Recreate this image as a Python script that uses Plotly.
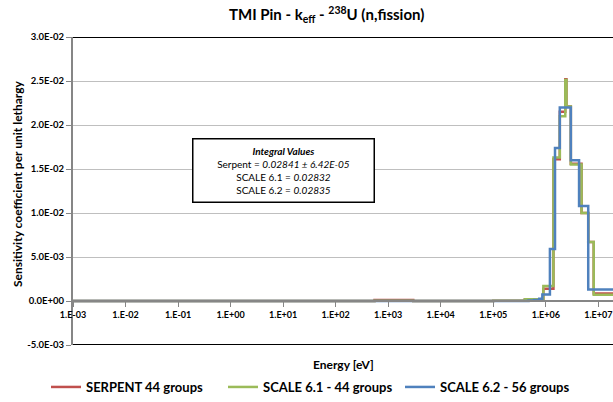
import plotly.graph_objects as go

# ---- 44-group structure (eV, ascending) ----
bounds_44 = [1e-5, 3e-3, 7.5e-3, 1e-2, 2.53e-2, 3e-2, 4e-2, 5e-2, 7e-2, 1e-1,
             1.5e-1, 2e-1, 2.25e-1, 2.5e-1, 2.75e-1, 3.25e-1, 3.5e-1, 3.75e-1,
             4e-1, 6.25e-1, 1.0, 1.77, 3.0, 4.75, 6.0, 8.1, 10.0, 30.0, 100.0,
             550.0, 3.0e3, 1.7e4, 2.5e4, 1.0e5, 4.0e5, 9.0e5, 1.4e6, 1.85e6,
             2.354e6, 2.479e6, 3.0e6, 4.8e6, 6.434e6, 8.187e6, 2.0e7]

# sensitivity per unit lethargy, one value per group (ascending energy)
serpent_44 = [0.0] * 29 + [0.00012, 0.0, 0.0, 0.00001, 0.00003, 0.00018,
                           0.0014, 0.0161, 0.0215, 0.0252, 0.0221, 0.0156,
                           0.0100, 0.0067, 0.00085]
scale61_44 = [0.0] * 29 + [0.00004, 0.0, 0.0, 0.00001, 0.00003, 0.0002,
                           0.0017, 0.0163, 0.0210, 0.0251, 0.0221, 0.0155,
                           0.0100, 0.0067, 0.00072]

# ---- 56-group structure (eV, ascending) ----
bounds_56 = [1e-5, 3e-3, 4e-3, 7.5e-3, 1e-2, 2.53e-2, 3e-2, 4e-2, 5e-2, 6e-2,
             7e-2, 8e-2, 1e-1, 1.5e-1, 2e-1, 2.25e-1, 2.5e-1, 2.75e-1, 3e-1,
             3.5e-1, 4e-1, 5e-1, 6.25e-1, 8e-1, 1.0, 1.13, 1.3, 1.77, 3.0,
             4.75, 6.0, 8.1, 11.7, 20.4, 29.912, 36.726, 88.417, 193.05,
             2.25e3, 3.74e3, 1.7e4, 2.0e4, 5.0e4, 2.0e5, 2.7e5, 3.3e5, 4.7e5,
             6.0e5, 7.5e5, 8.611e5, 1.2e6, 1.5e6, 1.85e6, 3.0e6, 4.304e6,
             6.434e6, 2.0e7]
scale62_56 = [0.0] * 46 + [0.00005, 0.0001, 0.00026, 0.00075, 0.0059, 0.0174,
                           0.0220, 0.0160, 0.0108, 0.0013]

x_tick_vals = [1e-3, 1e-2, 1e-1, 1e0, 1e1, 1e2, 1e3, 1e4, 1e5, 1e6, 1e7]
x_tick_text = ["1.E-03", "1.E-02", "1.E-01", "1.E+00", "1.E+01", "1.E+02",
               "1.E+03", "1.E+04", "1.E+05", "1.E+06", "1.E+07"]
y_tick_vals = [-0.005, 0.0, 0.005, 0.01, 0.015, 0.02, 0.025, 0.03]
y_tick_text = ["-5.0E-03", "0.0E+00", "5.0E-03", "1.0E-02", "1.5E-02",
               "2.0E-02", "2.5E-02", "3.0E-02"]

series = [
    ("SERPENT 44 groups", bounds_44, serpent_44, "#C0504D"),
    ("SCALE 6.1 - 44 groups", bounds_44, scale61_44, "#9BBB59"),
    ("SCALE 6.2 - 56 groups", bounds_56, scale62_56, "#4F81BD"),
]

FONT = "Lato"
Y_MIN, Y_MAX = -0.005, 0.03

fig = go.Figure()
for name, bnds, vals, color in series:
    fig.add_trace(go.Scatter(
        x=bnds, y=list(vals) + [vals[-1]], mode="lines", line_shape="hv",
        name=name, line=dict(color=color, width=2.5),
    ))

fig.update_layout(
    width=613, height=402,
    margin=dict(l=73, r=0, t=37, b=54),
    paper_bgcolor="white", plot_bgcolor="white",
    font=dict(family=FONT, color="black"),
    showlegend=True,
    legend=dict(orientation="h", x=-0.05, y=-0.138, xanchor="left",
                yanchor="middle", font=dict(size=13, weight="bold"),
                itemwidth=30, entrywidth=132, bgcolor="rgba(0,0,0,0)"),
    xaxis=dict(
        type="log", range=[-3, 7.28], anchor="free",
        position=(0 - Y_MIN) / (Y_MAX - Y_MIN),
        showline=True, linecolor="#868686", linewidth=2,
        ticks="outside", ticklen=5, tickcolor="#868686", tickwidth=1,
        tickvals=x_tick_vals, ticktext=x_tick_text,
        tickfont=dict(size=9, weight="bold"),
        showgrid=False, zeroline=False,
    ),
    yaxis=dict(
        range=[Y_MIN, Y_MAX],
        showline=True, linecolor="#868686", linewidth=2,
        ticks="outside", ticklen=5, tickcolor="#868686",
        tickvals=y_tick_vals, ticktext=y_tick_text,
        tickfont=dict(size=9.5, weight="bold"),
        showgrid=True, gridcolor="#BFBFBF", gridwidth=1, zeroline=False,
    ),
)

# black frame lines at the top and bottom of the plot area
for yv in (Y_MAX, Y_MIN):
    fig.add_shape(type="line", xref="paper", yref="y", x0=0, x1=1,
                  y0=yv, y1=yv, line=dict(color="black", width=2))

fig.add_annotation(
    text="TMI Pin - k<sub>eff</sub> - <sup>238</sup>U (n,fission)",
    xref="paper", yref="paper", x=0.47, y=1.074, yanchor="middle",
    showarrow=False, font=dict(size=15, weight="bold"),
)
fig.add_annotation(
    text="Sensitivity coefficient per unit lethargy", textangle=-90,
    xref="paper", yref="paper", x=-0.12, y=0.525, yanchor="middle",
    showarrow=False, font=dict(size=12, weight="bold"),
)
fig.add_annotation(
    text="Energy [eV]", xref="paper", yref="paper", x=0.5, y=-0.064,
    yanchor="middle", showarrow=False, font=dict(size=12, weight="bold"),
)
fig.add_annotation(
    text=("<b><i>Integral Values</i></b><br>"
          "Serpent = <i>0.02841 ± 6.42E-05</i><br>"
          "SCALE 6.1 = <i>0.02832</i><br>"
          "SCALE 6.2 = <i>0.02835</i>"),
    xref="paper", yref="paper", x=0.389, y=0.566, showarrow=False,
    font=dict(size=10), align="center",
    bgcolor="white", bordercolor="black", borderwidth=1.5,
    width=178, height=60,
)

fig.write_html("out.html")
